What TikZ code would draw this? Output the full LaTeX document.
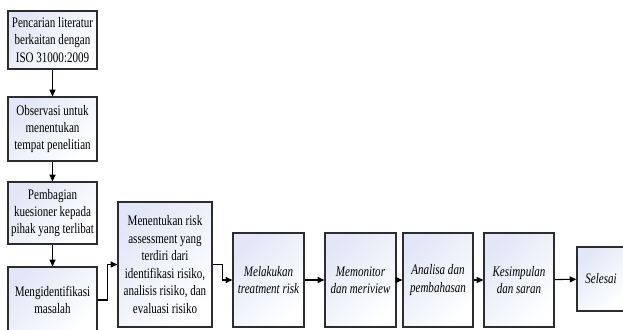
\documentclass[tikz,border=0pt]{standalone}
\usepackage{fontspec}
\setmainfont{Liberation Serif}[FakeStretch=0.76]
\usetikzlibrary{arrows.meta}

\definecolor{boxfill}{RGB}{226,231,247}
\definecolor{boxline}{RGB}{45,45,45}

\tikzset{
  stepbox/.style={draw=boxline, line width=0.9pt, top color=boxfill, bottom color=white, shading angle=45,
    align=center, inner sep=2pt, font=\fontsize{10.9}{13.1}\selectfont},
  arr/.style={draw=black, line width=0.8pt, -{Triangle[length=5pt,width=4.5pt]}}
}

\begin{document}
\begin{tikzpicture}[x=0.75pt,y=0.75pt,yscale=-1,xscale=1]
\useasboundingbox (0,0) rectangle (623,329);
\clip (0,0) rectangle (623,329);

% Left column
\node [stepbox, minimum width=66.75pt, minimum height=43.5pt] (lit) at (52.5,40) {Pencarian literatur\\berkaitan dengan\\ISO 31000:2009};
\node [stepbox, minimum width=66.75pt, minimum height=48pt] (obs) at (52.5,129) {Observasi untuk\\menentukan\\tempat penelitian};
\node [stepbox, minimum width=66.75pt, minimum height=46.5pt] (kues) at (52.5,213) {Pembagian\\kuesioner kepada\\pihak yang terlibat};
\node [stepbox, minimum width=66.75pt, minimum height=49.5pt] (ident) at (52.5,300) {Mengidentifikasi\\masalah};

% Bottom row
\node [stepbox, minimum width=70.5pt, minimum height=93.75pt] (asses) at (165,264.5) {Menentukan risk\\assessment yang\\terdiri dari\\identifikasi risiko,\\analisis risiko, dan\\evaluasi risiko};
\node [stepbox, minimum width=53.25pt, minimum height=70.5pt] (treat) at (268.5,280) {\itshape Melakukan\\\itshape treatment risk};
\node [stepbox, minimum width=53.25pt, minimum height=70.5pt] (monit) at (360.5,280) {\itshape Memonitor\\\itshape dan meriview};
\node [stepbox, minimum width=52.5pt, minimum height=70.5pt] (anal) at (438,280) {\itshape Analisa dan\\\itshape pembahasan};
\node [stepbox, minimum width=52.5pt, minimum height=70.5pt] (simp) at (519,280) {\itshape Kesimpulan\\\itshape dan saran};
\node [stepbox, minimum width=36pt, minimum height=48pt, inner sep=1pt] (end) at (601,279) {\itshape Selesai};

% Connectors
\draw [arr] (lit) -- (obs);
\draw [arr] (obs) -- (kues);
\draw [arr] (kues) -- (ident);
\draw [arr] (ident.east) -- ++(10,0) |- (asses.west);
\draw [arr] (asses.east) -- ++(10,0) |- (treat.west);
\draw [arr] (treat) -- (monit);
\draw [arr] (monit) -- (anal);
\draw [arr] (anal) -- (simp);
\draw [arr] (simp) -- (end);

\end{tikzpicture}
\end{document}
